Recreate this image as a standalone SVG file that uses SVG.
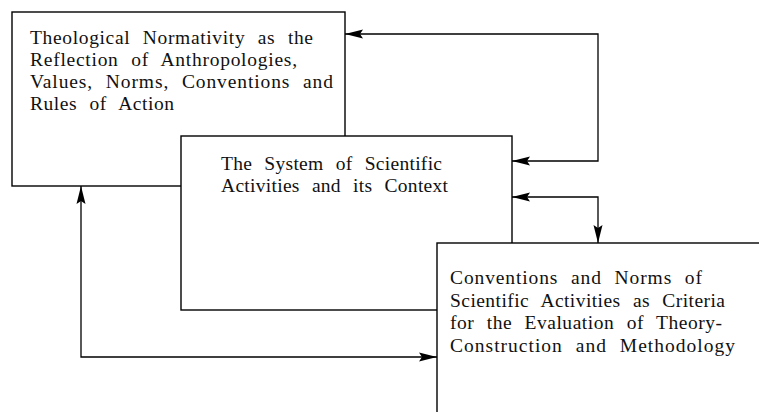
<svg xmlns="http://www.w3.org/2000/svg" width="759" height="412" viewBox="0 0 759 412">
<defs>
<marker id="arr" markerUnits="userSpaceOnUse" markerWidth="20" markerHeight="10" refX="18" refY="5" orient="auto-start-reverse" overflow="visible">
<path d="M0,0.5 L18,5 L0,9.5 L3,5 Z" fill="#000"/>
</marker>
</defs>
<style>
.box{fill:#fff;stroke:#000;stroke-width:1.4}
.lbl{font-family:"Liberation Serif","Times New Roman",serif;font-size:19.5px;word-spacing:7px;fill:#111}
.con{fill:none;stroke:#000;stroke-width:1.3}
</style>
<rect width="759" height="412" fill="#fff"/>
<g id="connectors">
<path class="con" d="M345,34 H598 V161 H512" marker-start="url(#arr)" marker-end="url(#arr)"/>
<path class="con" d="M512,197 H598 V243" marker-start="url(#arr)" marker-end="url(#arr)"/>
<path class="con" d="M81,186 V357 H437" marker-start="url(#arr)" marker-end="url(#arr)"/>
</g>
<g id="theological">
<rect class="box" x="12" y="12" width="333" height="174"/>
<text class="lbl" x="30" y="44" textLength="283" lengthAdjust="spacing">Theological Normativity as the</text>
<text class="lbl" x="30" y="66" textLength="267" lengthAdjust="spacing">Reflection of Anthropologies,</text>
<text class="lbl" x="30" y="88" textLength="303" lengthAdjust="spacing">Values, Norms, Conventions and</text>
<text class="lbl" x="30" y="110" textLength="144" lengthAdjust="spacing">Rules of Action</text>
</g>
<g id="system">
<rect class="box" x="181" y="136" width="331" height="174"/>
<text class="lbl" x="221" y="169.5" textLength="221" lengthAdjust="spacing">The System of Scientific</text>
<text class="lbl" x="221" y="191.5" textLength="227" lengthAdjust="spacing">Activities and its Context</text>
</g>
<g id="conventions">
<rect class="box" x="437" y="243" width="400" height="250"/>
<text class="lbl" x="450" y="284" textLength="252" lengthAdjust="spacing">Conventions and Norms of</text>
<text class="lbl" x="450" y="306.5" textLength="275" lengthAdjust="spacing">Scientific Activities as Criteria</text>
<text class="lbl" x="450" y="329" textLength="272" lengthAdjust="spacing">for the Evaluation of Theory-</text>
<text class="lbl" x="450" y="351.5" textLength="285" lengthAdjust="spacing">Construction and Methodology</text>
</g>
</svg>
